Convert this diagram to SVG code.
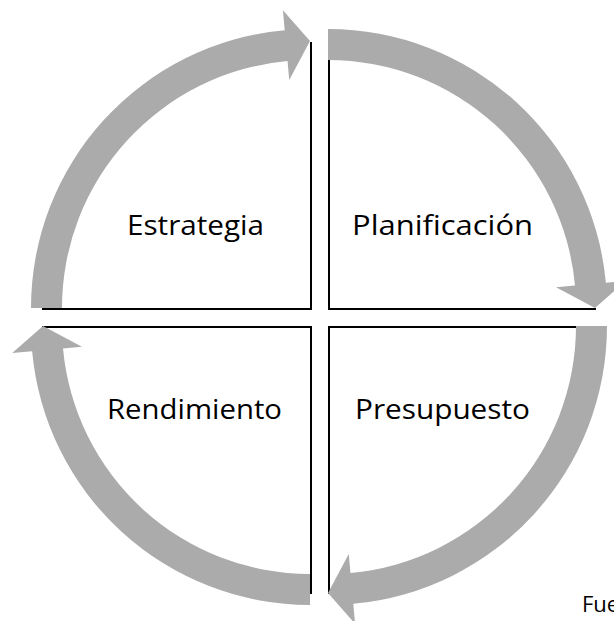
<svg xmlns="http://www.w3.org/2000/svg" xmlns:xlink="http://www.w3.org/1999/xlink" width="614" height="621" viewBox="0 0 614 621">
  <style>
    .edge { fill: none; stroke: #000000; stroke-width: 2; }
    .band { fill: #ABABAB; stroke: none; }
    .label { font-family: "Open Sans", "Liberation Sans", sans-serif; font-size: 28px; fill: #000000; text-anchor: middle; }
    .note { font-family: "Open Sans", "Liberation Sans", sans-serif; font-size: 22px; fill: #000000; }
  </style>
  <defs>
    <path id="arc" d="M-279,0 A279,279 0 0 1 -25.28,-277.86 L-27.09,-297.77 L0,-267 L-20.75,-228.06 L-22.47,-246.98 A248,248 0 0 0 -248,0 Z"/>
  </defs>
  <rect width="614" height="621" fill="#FFFFFF"/>

  <g id="estrategia">
    <path class="edge" d="M311,42 V309 H42"/>
    <text class="label" x="195.5" y="235" textLength="137" lengthAdjust="spacingAndGlyphs">Estrategia</text>
  </g>
  <g id="planificacion">
    <path class="edge" d="M329,42 V309 H596"/>
    <text class="label" x="442.5" y="235" textLength="181" lengthAdjust="spacingAndGlyphs">Planificación</text>
  </g>
  <g id="presupuesto">
    <path class="edge" d="M329,594 V327 H596"/>
    <text class="label" x="442.5" y="419" textLength="175" lengthAdjust="spacingAndGlyphs">Presupuesto</text>
  </g>
  <g id="rendimiento">
    <path class="edge" d="M311,594 V327 H42"/>
    <text class="label" x="194.5" y="419" textLength="175" lengthAdjust="spacingAndGlyphs">Rendimiento</text>
  </g>

  <g id="connectors">
    <use xlink:href="#arc" class="band" transform="translate(310,308)"/>
    <use xlink:href="#arc" class="band" transform="translate(328,308) rotate(90)"/>
    <use xlink:href="#arc" class="band" transform="translate(328,326) rotate(180)"/>
    <use xlink:href="#arc" class="band" transform="translate(310,326) rotate(270)"/>
  </g>

  <text class="note" x="582" y="612">Fue</text>
</svg>
